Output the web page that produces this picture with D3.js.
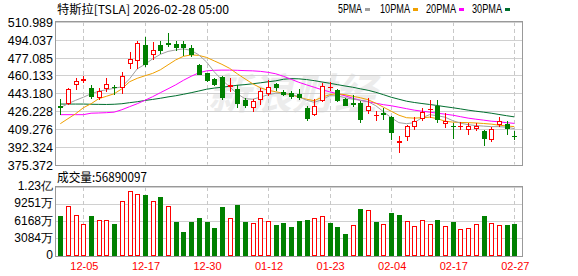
<!DOCTYPE html>
<html><head><meta charset="utf-8">
<script src="https://cdn.jsdelivr.net/npm/d3@7/dist/d3.min.js"></script>
<style>html,body{margin:0;padding:0;background:#fff;overflow:hidden}</style>
</head><body><svg id="c" width="578" height="276"></svg>
<script>
// ---------------- data ----------------
const title = "特斯拉[TSLA] 2026-02-28 05:00";
const volTitle = "成交量:56890097";
const legendNames = ["5PMA", "10PMA", "20PMA", "30PMA"];

const dates = ["12-02","12-03","12-04","12-05","12-08","12-09","12-10","12-11","12-12","12-15",
"12-16","12-17","12-18","12-19","12-22","12-23","12-24","12-26","12-29","12-30",
"12-31","01-02","01-05","01-06","01-07","01-08","01-09","01-12","01-13","01-14",
"01-15","01-16","01-20","01-21","01-22","01-23","01-26","01-27","01-28","01-29",
"01-30","02-02","02-03","02-04","02-05","02-06","02-09","02-10","02-11","02-12",
"02-13","02-17","02-18","02-19","02-20","02-23","02-24","02-25","02-26","02-27"];

const openP = [431.3,432.6,450.9,454.7,448.1,438.6,446.8,449.0,448.4,471.2,
473.7,489.5,479.4,488.9,491.4,490.1,489.8,486.3,470.5,462.3,
457.2,458.5,449.6,446.8,436.3,429.1,437.0,442.4,451.9,444.3,
443.4,442.4,429.1,422.8,435.4,448.1,445.8,437.7,433.9,433.9,
426.6,421.2,424.4,420.6,396.2,401.2,410.8,418.7,427.2,430.6,
414.3,412.4,410.8,407.9,409.2,407.6,399.1,413.3,414.0,402.9];
const highP = [437.3,448.4,457.9,459.5,450.6,448.4,457.9,450.6,463.3,482.5,
492.7,496.8,492.0,492.7,500.6,492.7,492.7,488.9,470.8,462.6,
457.9,459.5,457.9,451.5,438.9,437.7,448.1,455.7,452.9,446.5,
444.9,447.4,430.6,437.7,452.9,453.5,447.4,438.6,441.8,435.4,
438.6,426.6,429.1,421.2,402.2,413.3,420.2,429.4,437.0,437.0,
424.4,414.9,415.9,414.9,414.9,408.6,410.8,420.2,417.1,406.9];
const lowP = [422.8,432.3,445.8,453.1,437.3,436.3,444.6,441.1,442.0,466.7,
466.7,468.3,475.2,480.6,487.0,483.2,478.4,477.5,460.4,453.8,
450.0,436.3,444.6,429.4,429.4,424.9,432.3,440.8,444.9,440.2,
437.7,436.3,416.4,421.2,434.5,444.9,435.1,431.3,430.1,414.9,
423.5,416.4,418.0,399.1,386.5,397.5,408.6,416.4,419.6,414.9,
410.2,400.0,408.6,403.8,406.9,393.4,396.9,410.8,403.8,399.1];
const closeP = [429.4,447.5,454.7,456.3,439.9,445.6,451.9,448.1,459.5,475.6,
491.1,469.9,484.1,483.2,489.5,486.3,486.3,480.0,461.0,454.7,
450.9,438.9,450.9,433.2,430.6,435.4,444.9,449.6,448.1,441.8,
439.6,438.6,418.7,431.3,450.3,449.0,436.1,431.3,431.6,418.0,
430.6,422.1,422.1,405.4,397.5,411.7,417.1,425.6,428.2,418.0,
417.1,410.8,411.7,411.9,412.1,400.0,409.5,417.1,409.5,402.2];

// volume in 万股 (10k shares)
const volume = [7068,8865,7248,5750,7068,6349,6349,5631,9764,11561,
11022,10842,9764,10483,8865,6050,4253,6050,6709,6050,
4912,8686,6829,9045,5990,5810,6829,6170,5451,5810,
5092,6170,6349,6829,7188,5810,5092,3834,5571,8326,
8266,5990,5750,7607,7368,6290,5391,6469,5750,6349,
5271,5990,4732,5032,5750,7068,5930,5571,5451,5689];
// 1 = up (red, hollow), 0 = down (green)
const volUp = [0,1,1,1,0,1,1,0,1,1, 1,0,1,0,1,0,0,0,0,0, 0,0,1,0,0,1,1,1,0,0,
0,0,0,1,1,0,0,0,1,0, 1,0,1,0,0,1,1,1,1,0, 1,0,1,1,1,0,1,1,0,0];

const ma5 = [429.4,433.2,436.5,439.4,442.7,445.1,446.5,447.9,449.3,456.9,
466.4,470.7,475.9,480.2,483.0,484.4,485.4,484.0,479.7,473.0,
463.6,456.0,449.3,442.7,438.0,437.5,439.4,441.8,443.2,443.2,
442.2,439.9,436.5,434.6,437.0,440.8,440.8,438.9,437.5,436.5,
435.1,431.3,425.6,419.9,415.2,414.2,415.2,419.9,422.8,421.8,
420.4,417.1,414.7,413.3,412.4,411.9,411.4,411.4,410.9,409.5];
const ma10 = [414.2,419.0,423.7,429.4,433.2,438.0,440.3,442.7,447.4,454.1,
457.4,459.8,462.1,465.5,470.2,474.9,478.3,479.7,479.2,477.3,
474.0,470.7,466.9,461.7,456.9,452.2,448.4,446.0,444.6,443.2,
441.8,439.4,437.5,436.1,439.4,441.8,442.7,441.8,440.3,438.9,
437.0,433.7,429.9,426.1,422.3,419.9,419.5,419.9,420.4,419.0,
416.6,415.7,415.4,415.2,414.9,414.4,413.8,412.8,412.1,411.4];
const ma20 = [422.8,422.8,422.8,422.8,424.2,424.4,424.7,425.2,427.5,430.4,
433.2,436.5,439.9,443.7,447.4,451.2,455.5,459.3,462.6,464.5,
465.0,465.2,465.2,465.0,464.7,464.5,464.0,463.1,461.7,459.3,
456.5,453.6,451.2,448.9,446.5,444.6,442.7,440.8,438.4,436.5,
435.1,433.7,432.3,431.3,429.9,428.5,427.1,426.1,425.2,424.2,
423.3,422.3,420.9,419.5,418.5,417.6,416.6,416.0,415.2,414.5];
const ma30 = [432.9,432.9,432.9,432.9,432.7,432.6,432.5,432.7,433.2,434.2,
435.1,436.3,437.3,438.4,439.7,440.8,442.2,443.7,445.3,447.0,
448.1,448.9,449.8,450.8,451.4,452.2,453.1,454.1,455.0,456.5,
457.1,456.9,456.2,455.2,453.9,452.7,451.4,450.1,448.9,447.4,
446.0,444.1,441.8,439.4,437.5,435.6,434.4,433.4,432.5,431.5,
430.4,429.4,428.3,427.1,426.1,425.2,424.2,423.0,421.8,420.7];

const priceTicks = [375.372,392.324,409.276,426.228,443.180,460.133,477.085,494.037,510.989];
const priceTickLabels = ["375.372","392.324","409.276","426.228","443.180","460.133","477.085","494.037","510.989"];
const volTicks = [0,3084,6168,9251,12335];
const volTickLabels = ["0","3084万","6168万","9251万","1.23亿"];
const dateTicks = ["12-05","12-17","12-30","01-12","01-23","02-04","02-17","02-27"];

// ---------------- drawing ----------------
const RED = "#ff0000", GREEN = "#008000";
const maColors = ["#a0a0a0", "#f0a000", "#ff00ff", "#006e2e"];
const FONT = "'Liberation Sans', Arial, sans-serif";
const CJK = "'Noto Sans CJK SC', 'Liberation Sans', sans-serif";

const svg = d3.select("#c");
const L = 56, R = 522, PT = 22, PB = 164.5, VT = 187, VB = 255.5;

const x = d3.scalePoint().domain(dates).range([60.3, 514.3]);
const y = d3.scaleLinear().domain([375.372, 510.989]).range([PB, PT]);
const yv = d3.scaleLinear().domain([0, 12335]).range([VB, VT]);
const cx = d => Math.round(x(d));
const crisp = v => Math.round(v) + 0.5;

// watermark
svg.append("text").attr("x", 292).attr("y", 109).attr("text-anchor", "middle")
  .attr("font-family", CJK).attr("font-size", 42).attr("font-style", "italic")
  .attr("font-weight", "bold").attr("fill", "#ececec").text("新浪财经");

// grids
const grid = svg.append("g");
priceTicks.forEach(t => {
  grid.append("line").attr("x1", L).attr("x2", R).attr("y1", crisp(y(t))).attr("y2", crisp(y(t)))
    .attr("stroke", "#d0d0d0");
});
volTicks.forEach(t => {
  grid.append("line").attr("x1", L).attr("x2", R).attr("y1", crisp(yv(t))).attr("y2", crisp(yv(t)))
    .attr("stroke", "#d0d0d0");
});
dateTicks.forEach(d => {
  [[PT, PB], [VT, VB]].forEach(([a, b]) => {
    grid.append("line").attr("x1", cx(d) + 0.5).attr("x2", cx(d) + 0.5).attr("y1", a).attr("y2", b)
      .attr("stroke", "#c8c8c8").attr("stroke-dasharray", "4,3");
  });
});

// frames
[[PT, PB], [VT, VB]].forEach(([a, b]) => {
  svg.append("rect").attr("x", L - 0.5).attr("y", crisp(a) - 1).attr("width", R - L + 1)
    .attr("height", Math.round(b) - Math.round(a) + 1)
    .attr("fill", "none").attr("stroke", "#999");
});

// MA lines
const maSets = [ma5, ma10, ma20, ma30];
const line = d3.line().x((d, i) => x(dates[i])).y(d => y(d));
maSets.slice().reverse().forEach((arr, k) => {
  const col = maColors[3 - k];
  svg.append("path").attr("d", line(arr)).attr("fill", "none").attr("stroke", col).attr("stroke-width", 1);
});

// candles
const cg = svg.append("g");
dates.forEach((d, i) => {
  const o = openP[i], c = closeP[i], h = highP[i], l = lowP[i];
  const up = c >= o;
  const col = up ? RED : GREEN;
  const X = cx(d);
  const yTop = Math.round(y(Math.max(o, c))), yBot = Math.round(y(Math.min(o, c)));
  const yH = Math.round(y(h)), yL = Math.round(y(l));
  if (up) {
    cg.append("line").attr("x1", X + 0.5).attr("x2", X + 0.5).attr("y1", yH).attr("y2", yTop).attr("stroke", col);
    cg.append("line").attr("x1", X + 0.5).attr("x2", X + 0.5).attr("y1", yBot).attr("y2", yL).attr("stroke", col);
    const hgt = Math.max(yBot - yTop, 1);
    cg.append("rect").attr("x", X - 1.5).attr("y", yTop + 0.5).attr("width", 4).attr("height", hgt - 1 > 0 ? hgt - 1 : 0.01)
      .attr("fill", "#fff").attr("stroke", col);
  } else {
    cg.append("line").attr("x1", X + 0.5).attr("x2", X + 0.5).attr("y1", yH).attr("y2", yL).attr("stroke", col);
    cg.append("rect").attr("x", X - 2).attr("y", yTop).attr("width", 5).attr("height", Math.max(yBot - yTop, 1))
      .attr("fill", col);
  }
});

// volume bars
const vg = svg.append("g");
dates.forEach((d, i) => {
  const X = cx(d);
  const top = Math.round(yv(volume[i]));
  const bot = Math.round(VB);
  if (volUp[i]) {
    vg.append("rect").attr("x", X - 1.5).attr("y", top + 0.5).attr("width", 4).attr("height", bot - top - 1)
      .attr("fill", "#fff").attr("stroke", RED);
  } else {
    vg.append("rect").attr("x", X - 2).attr("y", top).attr("width", 5).attr("height", bot - top).attr("fill", GREEN);
  }
});

// axes
const ya = svg.append("g").attr("transform", `translate(${L},0)`)
  .call(d3.axisLeft(y).tickValues(priceTicks).tickFormat((d, i) => priceTickLabels[i]).tickSize(0).tickPadding(3));
ya.select(".domain").remove();
ya.selectAll("text").attr("font-family", FONT).attr("font-size", 12.5).attr("fill", "#000").attr("dy", "0.36em");

const va = svg.append("g").attr("transform", `translate(${L},-1.5)`)
  .call(d3.axisLeft(yv).tickValues(volTicks).tickFormat((d, i) => volTickLabels[i]).tickSize(0).tickPadding(3));
va.select(".domain").remove();
va.selectAll("text").attr("font-family", FONT).attr("font-size", 12).attr("fill", "#000").attr("dy", "0.36em");

const xa = svg.append("g").attr("transform", `translate(0.5,${VB})`)
  .call(d3.axisBottom(x).tickValues(dateTicks).tickSize(0).tickPadding(0));
xa.select(".domain").remove();
xa.selectAll("text").attr("font-family", FONT).attr("font-size", 11).attr("fill", RED)
  .attr("y", 14).attr("dy", 0);

// title
svg.append("text").attr("x", 57).attr("y", 14).attr("font-family", CJK).attr("font-size", 12)
  .attr("fill", "#000").attr("textLength", 172).attr("lengthAdjust", "spacingAndGlyphs").text(title);
svg.append("text").attr("x", 57).attr("y", 182).attr("font-family", CJK).attr("font-size", 12.5)
  .attr("fill", "#000").attr("textLength", 90).attr("lengthAdjust", "spacingAndGlyphs").text(volTitle);

// legend
const legX = [338, 380, 426, 472];
const legW = [24, 30, 30, 30];
legendNames.forEach((n, k) => {
  svg.append("text").attr("x", legX[k]).attr("y", 13).attr("font-family", FONT).attr("font-size", 12)
    .attr("fill", "#000").attr("textLength", legW[k]).attr("lengthAdjust", "spacingAndGlyphs").text(n);
  svg.append("rect").attr("x", legX[k] + legW[k] + 3).attr("y", 8).attr("width", 5).attr("height", 3)
    .attr("fill", maColors[k]);
});
</script></body></html>
